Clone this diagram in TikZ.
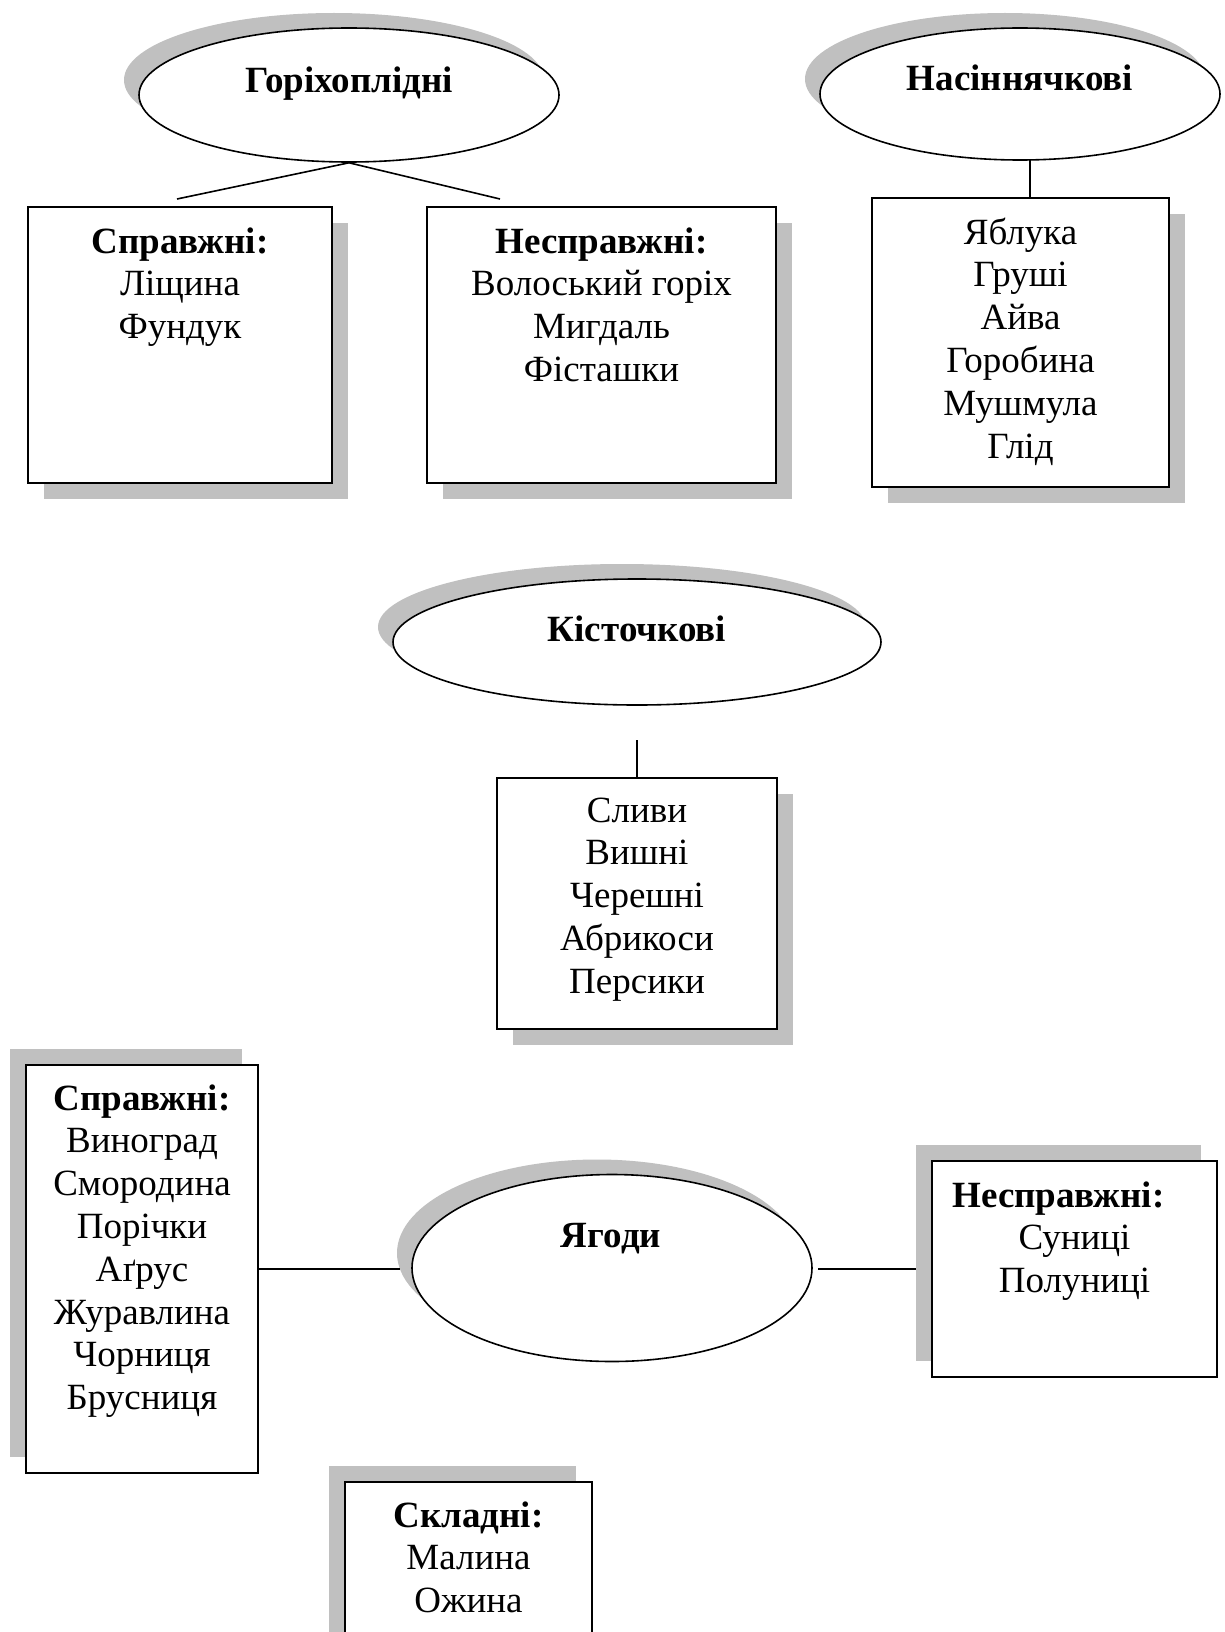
\documentclass[tikz,border=0pt]{standalone}
\usepackage{fontspec}
\setmainfont{Liberation Serif}
\usetikzlibrary{shapes.geometric,shadows}
\definecolor{shadowgray}{HTML}{C0C0C0}
\begin{document}
\begin{tikzpicture}[x=1pt,y=-1pt,
  line width=1.6pt,
  ell/.style={ellipse, draw, fill=white, inner sep=0pt},
  ulshadow/.style={general shadow={fill=shadowgray, shadow xshift=-15pt, shadow yshift=15pt}},
  drshadow/.style={general shadow={fill=shadowgray, shadow xshift=16pt, shadow yshift=-16pt}},
  ulbshadow/.style={general shadow={fill=shadowgray, shadow xshift=-16pt, shadow yshift=16pt}},
  box/.style={rectangle, draw, fill=white, inner sep=0pt},
  txt/.style={font=\fontsize{37}{42.8}\selectfont, align=center, inner sep=0pt, anchor=base},
  ttl/.style={font=\fontsize{37}{42.8}\selectfont\bfseries, inner sep=0pt, anchor=base},
  conn/.style={draw, line width=1.6pt}
]
\useasboundingbox (0,0) rectangle (1225,1632);
\clip (0,0) rectangle (1225,1632);
\fill[white] (0,0) rectangle (1225,1632);

% ellipses
\node[ell, ulshadow, minimum width=420pt, minimum height=134pt] (E1) at (349,95) {};
\node[ell, ulshadow, minimum width=400pt, minimum height=132pt] (E2) at (1020,94) {};
\node[ell, ulshadow, minimum width=488pt, minimum height=126pt] (E3) at (637,642) {};
\node[ell, ulshadow, minimum width=400pt, minimum height=187pt] (E4) at (612,1268) {};

% boxes
\node[box, drshadow, minimum width=304pt, minimum height=276pt] (B1) at (180,345) {};
\node[box, drshadow, minimum width=349pt, minimum height=276pt] (B2) at (601.5,345) {};
\node[box, drshadow, minimum width=297pt, minimum height=289pt] (B3) at (1020.5,342.5) {};
\node[box, drshadow, minimum width=280pt, minimum height=251pt] (B4) at (637,903.5) {};
\node[box, ulbshadow, minimum width=232pt, minimum height=408pt] (B5) at (142,1269) {};
\node[box, ulbshadow, minimum width=285pt, minimum height=216pt] (B6) at (1074.5,1269) {};
\node[box, ulbshadow, minimum width=247pt, minimum height=170pt] (B7) at (468.5,1567) {};

% connectors
\coordinate (n1) at (177,199);
\coordinate (n2) at (500,199);
\draw[conn] (E1.south) -- (n1);
\draw[conn] (E1.south) -- (n2);
\coordinate (c2) at (1030,160);
\draw[conn] (c2) -- (c2 |- B3.north);
\coordinate (k) at (637,740);
\draw[conn] (k) -- (B4.north);
\coordinate (yl) at (400,1269);
\draw[conn] (B5.east) -- (yl);
\coordinate (yr) at (818,1269);
\coordinate (yr2) at (916,1269);
\draw[conn] (yr) -- (yr2);

% titles
\node[ttl] (t1) at (349,93) {Горіхоплідні};
\node[ttl] (t2) at (1020,91) {Насіннячкові};
\node[ttl] (t3) at (637,641) {Кісточкові};
\node[ttl] (t4) at (611,1247) {Ягоди};

% box texts (anchor = baseline of the last line)
\node[txt] (l1) at (180,338.6) {\textbf{Справжні:}\\Ліщина\\Фундук};
\node[txt] (l2) at (601.5,381.4) {\textbf{Несправжні:}\\Волоський горіх\\Мигдаль\\Фісташки};
\node[txt] (l3) at (1020.5,458) {Яблука\\Груші\\Айва\\Горобина\\Мушмула\\Глід};
\node[txt] (l4) at (637,993.2) {Сливи\\Вишні\\Черешні\\Абрикоси\\Персики};
\node[txt] (l5) at (142,1409.6) {\textbf{Справжні:}\\Виноград\\Смородина\\Порічки\\Аґрус\\Журавлина\\Чорниця\\Брусниця};
\node[txt] (l6) at (1074.5,1292.6) {\textbf{Несправжні:}\rule{32pt}{0pt}\\Суниці\\Полуниці};
\node[txt] (l7) at (468.5,1612.6) {\textbf{Складні:}\\Малина\\Ожина};
\end{tikzpicture}
\end{document}
